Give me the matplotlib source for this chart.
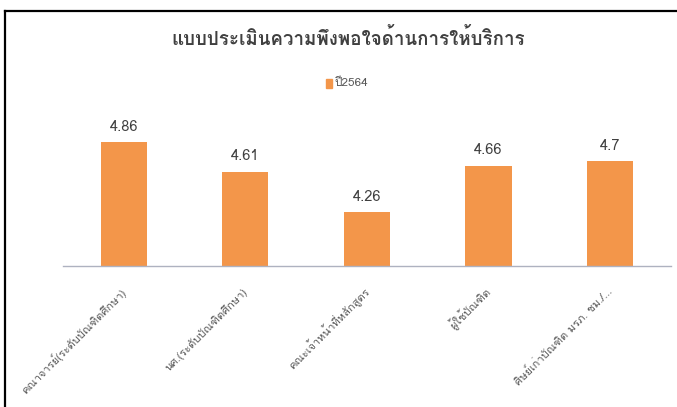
import matplotlib
matplotlib.use("Agg")
import matplotlib.pyplot as plt
from matplotlib import font_manager
from matplotlib.ft2font import FT2Font
from matplotlib.lines import Line2D
from matplotlib.patches import Rectangle

# Data
categories = [
    "คณาจารย์(ระดับบัณฑิตศึกษา)",
    "นศ.(ระดับบัณฑิตศึกษา)",
    "คณะเจ้าหน้าที่หลักสูตร",
    "ผู้ใช้บัณฑิต",
    "ศิษย์เก่าบัณฑิต มรภ. ชม./...",
]
scores_2564 = [4.86, 4.61, 4.26, 4.66, 4.7]
series_name = "ปี2564"
title_text = "แบบประเมินความพึงพอใจด้านการให้บริการ"


def find_thai_family():
    """Return the name of an installed font that covers Thai, if any."""
    for entry in font_manager.fontManager.ttflist:
        try:
            if 0x0E01 in FT2Font(entry.fname).get_charmap():
                return entry.name
        except Exception:
            continue
    return None


thai = find_thai_family()
families = ([thai] if thai else []) + ["DejaVu Sans"]
plt.rcParams["font.family"] = families

BAR_COLOR = "#F3964A"
TEXT_GRAY = "#595959"

fig = plt.figure(figsize=(6.77, 4.07), dpi=100)
ax = fig.add_axes([0.093, 0.3464, 0.898, 0.344])

x = list(range(len(categories)))
bars = ax.bar(x, scores_2564, width=0.38, color=BAR_COLOR, zorder=2)
ax.set_xlim(-0.5, len(categories) - 0.5)
ax.set_ylim(3.8, 5.0)

for rect, v in zip(bars, scores_2564):
    ax.annotate(f"{v:g}", (rect.get_x() + rect.get_width() / 2, v),
                xytext=(0, 6), textcoords="offset points",
                ha="center", va="bottom", fontsize=10.5, color="#404040")

for side in ("top", "right", "left"):
    ax.spines[side].set_visible(False)
ax.spines["bottom"].set_color("#AEB2C0")
ax.spines["bottom"].set_linewidth(1.0)
ax.set_yticks([])
ax.set_xticks(x)
ax.set_xticklabels(categories, rotation=45, ha="right", va="center",
                   rotation_mode="anchor", fontsize=8, color=TEXT_GRAY)
ax.tick_params(axis="x", length=0, pad=17)

fig.text(0.514, 0.905, title_text, ha="center", va="center",
         fontsize=13.5, fontweight="bold", color="#404040")

# Legend entry
fig.patches.append(Rectangle((0.481, 0.785), 0.009, 0.02,
                             transform=fig.transFigure, color=BAR_COLOR))
fig.text(0.494, 0.796, series_name, ha="left", va="center",
         fontsize=8.5, color=TEXT_GRAY)

# Frame lines on the top and left edges
fig.add_artist(Line2D([5.5 / 677, 5.5 / 677], [0, 1 - 10.5 / 407],
                      transform=fig.transFigure, color="black", lw=1.6))
fig.add_artist(Line2D([5.5 / 677, 1], [1 - 10.5 / 407, 1 - 10.5 / 407],
                      transform=fig.transFigure, color="black", lw=1.6))

fig.savefig("out.png", dpi=100, facecolor="white")
